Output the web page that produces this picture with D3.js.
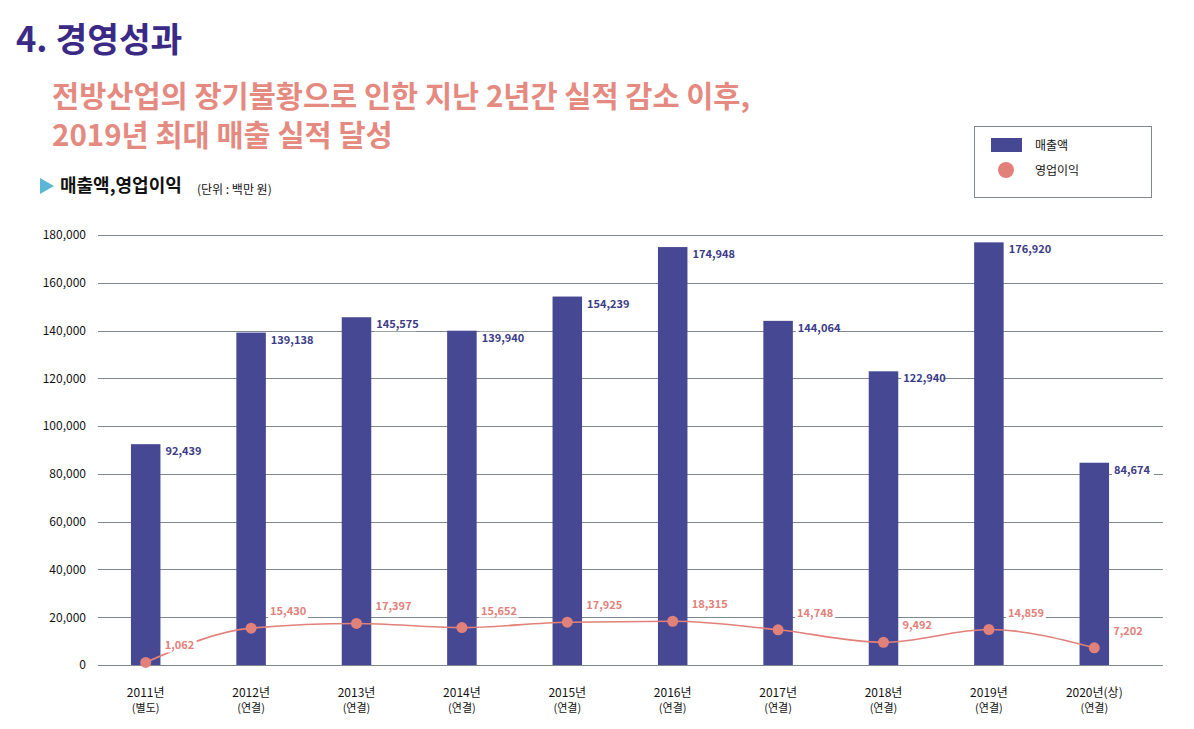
<!DOCTYPE html>
<html><head><meta charset="utf-8">
<script src="https://cdn.jsdelivr.net/npm/d3@7"></script>
<style>body{margin:0;background:#fff;}svg{display:block;font-family:"Noto Sans CJK KR","Noto Sans",sans-serif;}</style>
</head><body>
<svg id="c" width="1194" height="729"></svg>
<script>
const years = ["2011년","2012년","2013년","2014년","2015년","2016년","2017년","2018년","2019년","2020년(상)"];
const subLabels = ["(별도)","(연결)","(연결)","(연결)","(연결)","(연결)","(연결)","(연결)","(연결)","(연결)"];
const sales = [92439,139138,145575,139940,154239,174948,144064,122940,176920,84674];
const profit = [1062,15430,17397,15652,17925,18315,14748,9492,14859,7202];
const yTicks = [0,20000,40000,60000,80000,100000,120000,140000,160000,180000];

const svg = d3.select("#c");
const barColor = "#474893", lineColor = "#e2807a", gridColor = "#7d8891", labelNavy = "#3b3b86";

// Titles
svg.append("text").attr("x",16).attr("y",52).attr("font-size",34.5).attr("font-weight",700)
  .attr("fill","#3a2a86").text("4. 경영성과");
svg.append("text").attr("x",52).attr("y",107).attr("font-size",29.5).attr("font-weight",700)
  .attr("fill","#e58a80").text("전방산업의 장기불황으로 인한 지난 2년간 실적 감소 이후,");
svg.append("text").attr("x",52).attr("y",146).attr("font-size",29.5).attr("font-weight",700)
  .attr("fill","#e58a80").text("2019년 최대 매출 실적 달성");
svg.append("path").attr("d","M40,178 L54,186 L40,194 Z").attr("fill","#5bb7d5");
svg.append("text").attr("x",60).attr("y",192).attr("font-size",18).attr("font-weight",700)
  .attr("fill","#111").text("매출액,영업이익");
svg.append("text").attr("x",197).attr("y",194).attr("font-size",12)
  .attr("fill","#111").text("(단위 : 백만 원)");

// Legend
svg.append("rect").attr("x",974.5).attr("y",126.5).attr("width",177).attr("height",71)
  .attr("fill","#fff").attr("stroke",gridColor).attr("stroke-width",1);
svg.append("rect").attr("x",991).attr("y",138).attr("width",31).attr("height",14).attr("fill",barColor);
svg.append("text").attr("x",1035).attr("y",149.5).attr("font-size",12).attr("fill","#111").text("매출액");
svg.append("circle").attr("cx",1006).attr("cy",170).attr("r",8).attr("fill",lineColor);
svg.append("text").attr("x",1035).attr("y",174.5).attr("font-size",12).attr("fill","#111").text("영업이익");

// Scales
const y = d3.scaleLinear().domain([0,180000]).range([665,235]);
const x = d3.scaleBand().domain(years).range([93,1147]).paddingInner(0.72).paddingOuter(0.36);
const cx = d => x(d) + x.bandwidth()/2;

// Grid + y labels
const yAxis = d3.axisLeft(y).tickValues(yTicks).tickFormat(d3.format(",")).tickSize(0).tickPadding(0);
const gy = svg.append("g").attr("transform","translate(86,0)").call(yAxis);
gy.select(".domain").remove();
gy.selectAll("text").attr("font-size",12).attr("fill","#111").attr("font-family","\"Noto Sans CJK KR\",sans-serif");
svg.append("g").selectAll("line").data(yTicks).join("line")
  .attr("x1",98).attr("x2",1163).attr("y1",d=>Math.round(y(d))+0.5).attr("y2",d=>Math.round(y(d))+0.5)
  .attr("stroke",gridColor).attr("stroke-width",1.2);

// Bars
svg.append("g").selectAll("rect").data(sales).join("rect")
  .attr("x",(d,i)=>x(years[i])).attr("width",x.bandwidth())
  .attr("y",d=>y(d)).attr("height",d=>y(0)-y(d)).attr("fill",barColor);

// Bar labels with white background
const bl = svg.append("g").selectAll("g").data(sales).join("g")
  .attr("transform",(d,i)=>`translate(${x(years[i])+x.bandwidth()+4},${y(d)+11})`);
bl.append("rect").attr("x",-1).attr("y",-10).attr("width",42).attr("height",13).attr("fill","#fff");
bl.append("text").attr("x",1).attr("font-size",11).attr("font-weight",700).attr("fill",labelNavy)
  .text(d=>d3.format(",")(d));

// X labels
const xl = svg.append("g").selectAll("g").data(years).join("g")
  .attr("transform",d=>`translate(${cx(d)},0)`);
xl.append("text").attr("y",697).attr("text-anchor","middle").attr("font-size",12).attr("fill","#111").text(d=>d);
xl.append("text").attr("y",712).attr("text-anchor","middle").attr("font-size",11).attr("fill","#111").text((d,i)=>subLabels[i]);

// Profit line
const line = d3.line().x((d,i)=>cx(years[i])).y(d=>y(d)).curve(d3.curveMonotoneX);
svg.append("path").datum(profit).attr("d",line).attr("fill","none").attr("stroke",lineColor).attr("stroke-width",1.6);
svg.append("g").selectAll("circle").data(profit).join("circle")
  .attr("cx",(d,i)=>cx(years[i])).attr("cy",d=>y(d)).attr("r",5.5).attr("fill",lineColor);

// Profit labels
const pl = svg.append("g").selectAll("g").data(profit).join("g")
  .attr("transform",(d,i)=>`translate(${cx(years[i])+19},${y(d)-13})`);
pl.append("rect").attr("x",-2).attr("y",-10).attr("width",d=>d>=10000?40:34).attr("height",13).attr("fill","#fff");
pl.append("text").attr("font-size",11).attr("font-weight",700).attr("fill",lineColor)
  .text(d=>d3.format(",")(d));
</script>
</body></html>
